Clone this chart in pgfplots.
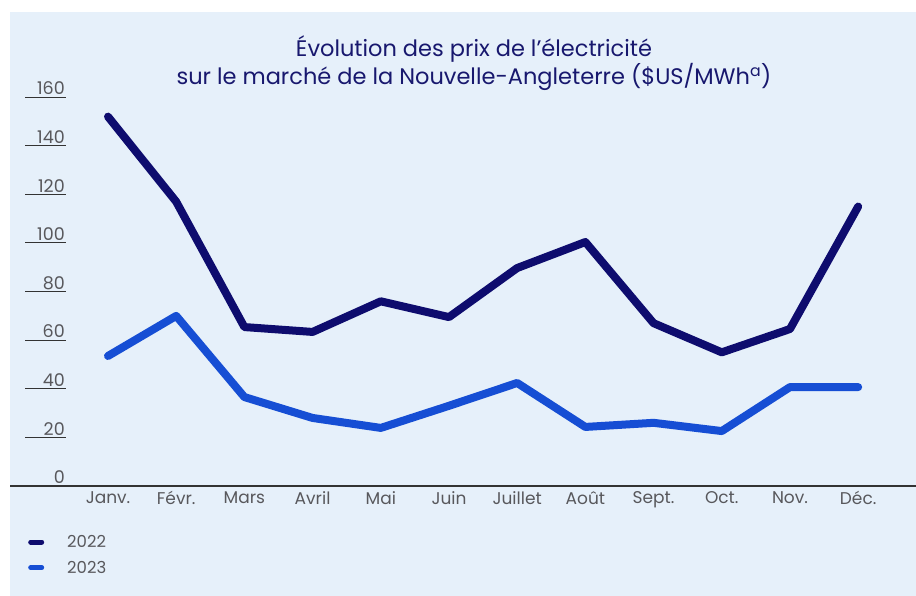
\documentclass[border=0pt]{standalone}
\usepackage{pgfplots}
\pgfplotsset{compat=1.18}
\usepackage{fontspec}
\setmainfont{Poppins}
\definecolor{bg}{RGB}{230,240,250}
\definecolor{navy}{RGB}{14,12,110}
\definecolor{blue23}{RGB}{22,78,212}
\definecolor{ticktext}{RGB}{88,88,92}
\definecolor{titlec}{RGB}{24,24,110}
\begin{document}
\begin{tikzpicture}[x=1pt,y=1pt]
\fill[bg] (10,0) rectangle (916,584);
\useasboundingbox (0,0) rectangle (916,596);
\node[text=titlec, align=center, font=\fontsize{22.5}{27}\selectfont] at (474,533) {Évolution des prix de l'électricité\\sur le marché de la Nouvelle-Angleterre (\$US/MWh\textsuperscript{a})};
\begin{axis}[
  at={(25pt,110pt)}, anchor=south west,
  scale only axis, width=891pt, height=388.8pt,
  xmin=-1.217, xmax=11.848, ymin=0, ymax=160,
  axis x line*=bottom, axis y line*=left,
  x axis line style={shorten <=-15pt, draw=black!80, line width=1.1pt},
  y axis line style={draw=none},
  xtick={0,...,11},
  xticklabels={Janv.,Févr.,Mars,Avril,Mai,Juin,Juillet,Août,Sept.,Oct.,Nov.,Déc.},
  xtick style={draw=none},
  xticklabel style={text=ticktext, font=\fontsize{17}{20}\selectfont, yshift=-2pt},
  ytick={0,20,...,160},
  tick align=inside, major tick length=41pt,
  ytick style={draw=black!80, line width=1pt},
  yticklabel style={anchor=south east, xshift=42pt, inner sep=2pt, text=ticktext, font=\fontsize{17.5}{20}\selectfont},
  /pgf/number format/assume math mode=true,
  legend style={at={(rel axis cs:0,0)}, anchor=north west, yshift=-45pt, draw=none, fill=none,
    font=\fontsize{16.5}{19}\selectfont, text=ticktext, row sep=8pt,
    /tikz/every odd column/.append style={column sep=21pt}},
  legend cell align=left,
  legend image code/.code={\draw[line width=5pt, line cap=round] (0pt,0pt) -- (11pt,0pt);},
]
\addplot[navy, line width=8pt, line join=round, line cap=round] coordinates {
(0,152) (1,117) (2,65.4) (3,63.4) (4,76) (5,69.5) (6,89.7) (7,100.4) (8,67) (9,55) (10,64.6) (11,115)};
\addlegendentry{2022}
\addplot[blue23, line width=8pt, line join=round, line cap=round] coordinates {
(0,53.5) (1,70) (2,36.6) (3,28) (4,23.9) (5,33) (6,42.4) (7,24.3) (8,26) (9,22.6) (10,40.7) (11,40.7)};
\addlegendentry{2023}
\end{axis}
\end{tikzpicture}
\end{document}
